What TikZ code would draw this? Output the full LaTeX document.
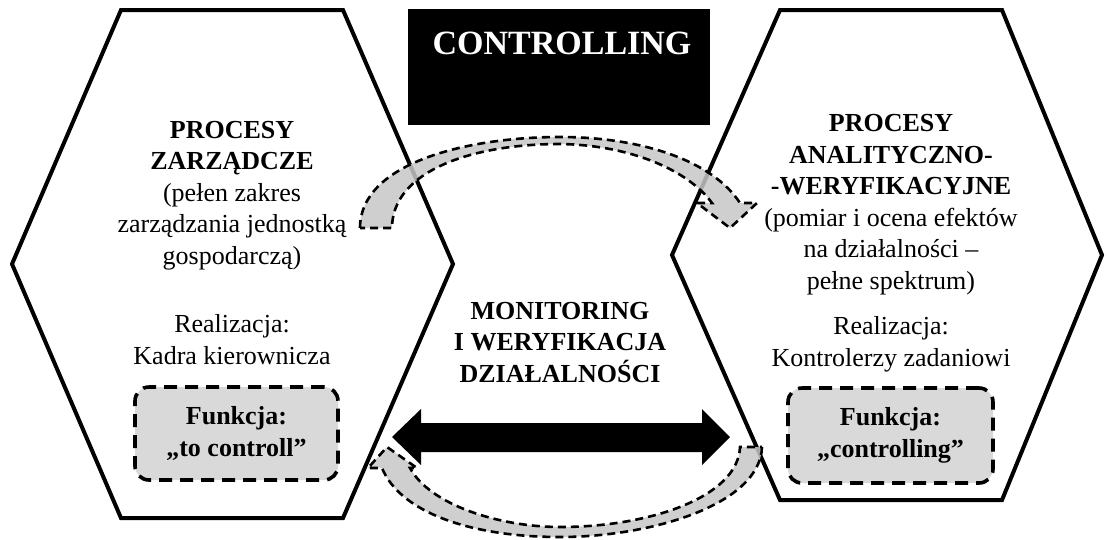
\documentclass[tikz,border=0pt]{standalone}
\usepackage{fontspec}
\setmainfont{Liberation Serif}
\newcommand\bodyf{\fontsize{26}{31.5}\selectfont}
\newcommand\bodybf{\bfseries\fontsize{26}{31.5}\selectfont}
\begin{document}
\begin{tikzpicture}[x=1pt,y=-1pt,
  hexa/.style={draw=black, line width=4pt, line join=miter},
  band/.style={draw=black, line width=2.6pt, dash pattern=on 8pt off 5pt, fill=black!22, fill opacity=0.85},
  funbox/.style={draw=black, line width=3.6pt, dash pattern=on 13pt off 8pt, fill=black!15, rounded corners=14pt, align=center, font=\bodybf, inner sep=0pt},
  txt/.style={align=center, anchor=base, font=\bodyf, inner sep=0pt},
  btxt/.style={align=center, anchor=base, font=\bodybf, inner sep=0pt}]
\useasboundingbox (0,0) rectangle (1108,539);
% hexagons
\draw[hexa] (121,10) -- (343,10) -- (453,264) -- (343,518) -- (121,518) -- (12,264) -- cycle;
\draw[hexa] (780,10) -- (1002,10) -- (1102,255) -- (1002,500) -- (780,500) -- (672,255) -- cycle;
% title box
\node[fill=black, minimum width=302, minimum height=116, inner sep=0pt, anchor=north west] (title) at (408,9) {};
\node[anchor=base, inner sep=0pt, text=white, font=\bfseries\fontsize{34}{38}\selectfont] (titletxt) at (562,54) {CONTROLLING};
% curved bands
\draw[band] (360,228) .. controls (360,162) and (470,137) .. (560,137)
  .. controls (640,137) and (712,160) .. (740,203) -- (757,203) -- (730,228) -- (697,203) -- (712,203)
  .. controls (688,170) and (630,145) .. (560,144)
  .. controls (470,144) and (392,172) .. (392,228) -- cycle;
\draw[band] (762,447) .. controls (760,505) and (650,537) .. (560,537)
  .. controls (470,537) and (400,512) .. (382,468) -- (368,468) -- (387,447) -- (417,468) -- (410,468)
  .. controls (430,505) and (500,527) .. (560,527)
  .. controls (650,527) and (738,497) .. (740,447) -- cycle;
% left texts (anchor = baseline of last line)
\node[txt] (ltitle) at (232,264) {\textbf{PROCESY}\\\textbf{ZARZĄDCZE}\\(pełen zakres\\zarządzania jednostką\\gospodarczą)};
\node[txt] (lreal) at (232,364) {Realizacja:\\Kadra kierownicza};
\node[funbox, minimum width=203, minimum height=93] (lfun) at (236.5,433.5) {Funkcja:\\„to controll”};
% right texts
\node[txt] (rtitle) at (891,289) {\textbf{PROCESY}\\\textbf{ANALITYCZNO-}\\\textbf{-WERYFIKACYJNE}\\(pomiar i ocena efektów\\na działalności –\\pełne spektrum)};
\node[txt] (rreal) at (891,366) {Realizacja:\\Kontrolerzy zadaniowi};
\node[funbox, minimum width=205, minimum height=95] (rfun) at (890.5,435.5) {Funkcja:\\„controlling”};
% middle
\node[btxt] (mid) at (560,382) {MONITORING\\I WERYFIKACJA\\DZIAŁALNOŚCI};
% double arrow
\fill[black] (392,437) -- (421,409) -- (421,423) -- (702,423) -- (702,409) -- (730,437)
  -- (702,465) -- (702,452) -- (421,452) -- (421,465) -- cycle;
\end{tikzpicture}
\end{document}
